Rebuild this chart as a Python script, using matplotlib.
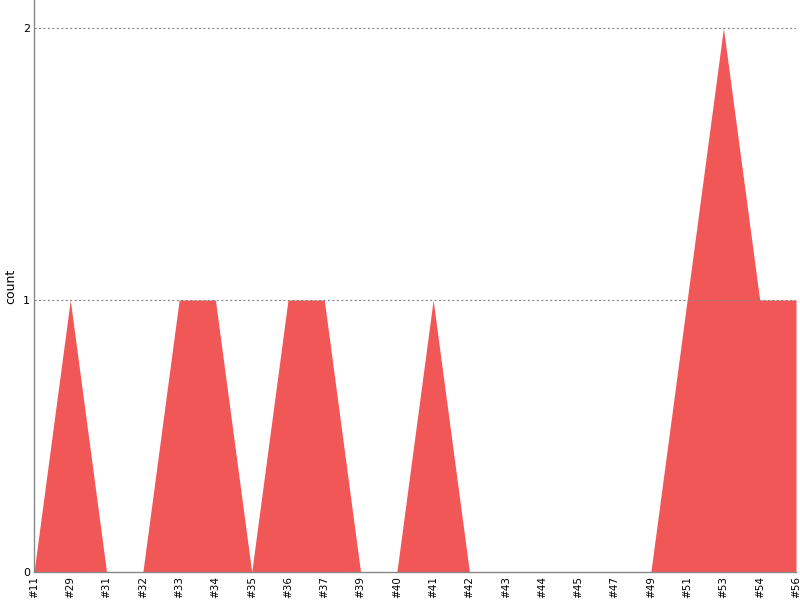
import matplotlib
matplotlib.use('Agg')
import matplotlib.pyplot as plt

# issue numbers along the x axis and their counts
labels = ['#11', '#29', '#31', '#32', '#33', '#34', '#35', '#36', '#37', '#39', '#40',
          '#41', '#42', '#43', '#44', '#45', '#47', '#49', '#51', '#53', '#54', '#56']
counts = [0, 1, 0, 0, 1, 1, 0, 1, 1, 0, 0, 1, 0, 0, 0, 0, 0, 0, 1, 2, 1, 1]

fig = plt.figure(figsize=(8, 6), dpi=100)
ax = fig.add_axes([34 / 800, 1 - 572 / 600, (796 - 34) / 800, 572 / 600])

x = list(range(len(labels)))
ax.fill_between(x, counts, 0, color='#f25757', linewidth=0, zorder=1)

ax.set_xlim(0, len(labels) - 1)
ax.set_ylim(0, 2.103)
ax.set_xticks(x)
ax.set_xticklabels(labels, rotation=90, fontsize=7.5)
ax.set_yticks([0, 1, 2])
ax.set_yticklabels(['0', '1', '2'], fontsize=8)
ax.tick_params(length=0, pad=3)
ax.set_ylabel('count', fontsize=9, labelpad=4)

# dotted grid lines sit on top of the filled area
for v in [1, 2]:
    ax.axhline(v, color='#888888', linestyle=(0, (2, 2)), linewidth=0.8, zorder=2)

for s in ['top', 'right']:
    ax.spines[s].set_visible(False)
for s in ['left', 'bottom']:
    ax.spines[s].set_color('#888888')
    ax.spines[s].set_linewidth(1)

fig.savefig('out.png', dpi=100)
